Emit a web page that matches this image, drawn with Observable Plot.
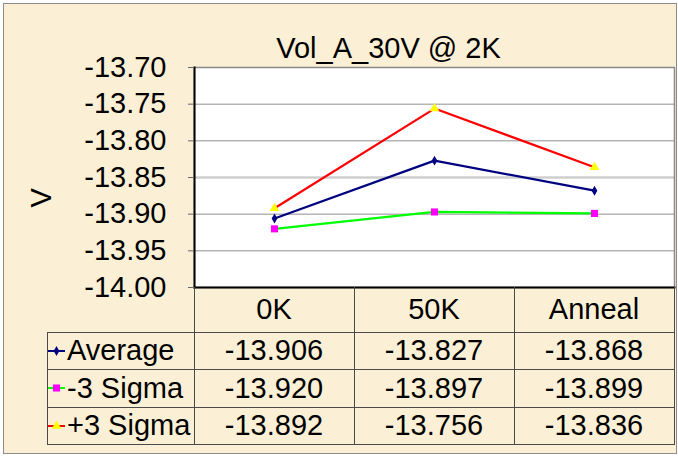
<!DOCTYPE html>
<html>
<head>
<meta charset="utf-8">
<script src="https://cdn.jsdelivr.net/npm/d3@7"></script>
<script src="https://cdn.jsdelivr.net/npm/@observablehq/plot@0.6"></script>
<style>
  html, body { margin: 0; padding: 0; background: #ffffff; }
  #stage { position: relative; width: 678px; height: 456px; overflow: hidden;
           font-family: "Liberation Sans", Arial, sans-serif; color: #000; }
  #bg { position: absolute; left: 3px; top: 3px; width: 672px; height: 449px;
        border: 1px solid #8c8c8c; background: #fbf0d6; }
  #stage svg { position: absolute; left: 0; top: 0; }
  .cell { position: absolute; display: flex; align-items: center; justify-content: center;
          font-size: 29px; white-space: nowrap; line-height: 1; }
  .lcell { justify-content: flex-start; }
  .hline, .vline { position: absolute; background: #4a4a4a; }
</style>
</head>
<body>
<div id="stage"><div id="bg"></div></div>
<script>
const title = "Vol_A_30V @ 2K";
const yLabel = "V";
const categories = ["0K", "50K", "Anneal"];
const seriesNames = ["Average", "-3 Sigma", "+3 Sigma"];
const average = [-13.906, -13.827, -13.868];
const minus3Sigma = [-13.920, -13.897, -13.899];
const plus3Sigma = [-13.892, -13.756, -13.836];
const tableText = [
  ["-13.906", "-13.827", "-13.868"],
  ["-13.920", "-13.897", "-13.899"],
  ["-13.892", "-13.756", "-13.836"]
];
const yTicks = [-13.70, -13.75, -13.80, -13.85, -13.90, -13.95, -14.00];
const gridTicks = [-13.75, -13.80, -13.90, -13.95];
const midGrid = [-13.85];

const seriesValues = [average, minus3Sigma, plus3Sigma];
const lineColors = ["#000080", "#00ff00", "#ff0000"];
const markFill = ["#000080", "#ff00ff", "#ffff00"];
const markSymbol = ["diamond", "square", "triangle"];
const markR = [3, 4, 3.6];

const rows = seriesNames.flatMap((s, i) =>
  categories.map((c, j) => ({series: s, cat: c, value: seriesValues[i][j]})));

const font = "Liberation Sans, Arial, sans-serif";

const lineMarks = seriesNames.map((s, i) =>
  Plot.line(rows.filter(d => d.series === s), {x: "cat", y: "value", stroke: lineColors[i], strokeWidth: 2.2}));
const dotMarks = seriesNames.map((s, i) =>
  Plot.dot(rows.filter(d => d.series === s), {x: "cat", y: "value", symbol: markSymbol[i], fill: markFill[i], stroke: "none", r: markR[i]}));

const plot = Plot.plot({
  width: 678,
  height: 456,
  marginLeft: 194,
  marginRight: 4,
  marginTop: 67,
  marginBottom: 169,
  style: {background: "transparent", fontFamily: font, fontSize: "29px", color: "#000", overflow: "visible"},
  x: {type: "band", domain: categories, padding: 0, axis: null},
  y: {domain: [-14.0, -13.70], axis: null},
  marks: [
    Plot.frame({fill: "#ffffff", stroke: "none"}),
    Plot.ruleY(gridTicks, {stroke: "#8f8f8f", strokeWidth: 1}),
    Plot.ruleY(midGrid, {stroke: "#cfcfcf", strokeWidth: 2.5}),
    Plot.frame({stroke: "#8a8a8a", strokeWidth: 1.5}),
    Plot.frame({anchor: "left", stroke: "#000", strokeWidth: 2}),
    Plot.frame({anchor: "bottom", stroke: "#000", strokeWidth: 2}),
    Plot.axisY({ticks: yTicks, tickFormat: d => d.toFixed(2), tickSize: 6, tickPadding: 22,
                fontSize: 29, label: null, stroke: "#666", fill: "#000"}),
    ...lineMarks,
    ...dotMarks,
    Plot.text([title], {frameAnchor: "top", dx: -46, dy: -30, fontSize: 29, fill: "#000"}),
    Plot.text([yLabel], {frameAnchor: "left", dx: -153, dy: 30, rotate: -90, fontSize: 29, fill: "#000"})
  ]
});

const stage = document.getElementById("stage");
stage.append(plot);

// ---- data table below the plot, aligned to the x band scale ----
const xs = plot.scale("x");
const bw = xs.bandwidth;
const colStart = categories.map(c => xs.apply(c));
const tableLeft = 47;
const frameBottom = 456 - 169;
const tableRight = colStart[colStart.length - 1] + bw;
const headerH = 45;
const rowH = [37, 38, 37];
const rowTops = [frameBottom + headerH];
rowH.forEach((h, i) => rowTops.push(rowTops[i] + h));

function el(cls, style, text) {
  const d = document.createElement("div");
  d.className = cls;
  Object.assign(d.style, style);
  if (text != null) d.textContent = text;
  stage.append(d);
  return d;
}

// header cells
categories.forEach((c, j) => {
  el("cell", {left: colStart[j] + "px", top: frameBottom + "px", width: bw + "px", height: headerH + "px"}, c);
});
// value rows
seriesNames.forEach((s, i) => {
  const top = rowTops[i], h = rowH[i];
  const lc = el("cell lcell", {left: (tableLeft + 1) + "px", top: top + "px", width: (colStart[0] - tableLeft - 1) + "px", height: h + "px"});
  const ns = "http://www.w3.org/2000/svg";
  const key = document.createElementNS(ns, "svg");
  key.setAttribute("width", 18); key.setAttribute("height", 12);
  key.style.position = "static"; key.style.marginRight = "1px"; key.style.flex = "none";
  const ln = document.createElementNS(ns, "line");
  ln.setAttribute("x1", 0); ln.setAttribute("x2", 17); ln.setAttribute("y1", 6); ln.setAttribute("y2", 6);
  ln.setAttribute("stroke", lineColors[i]); ln.setAttribute("stroke-width", 2);
  key.append(ln);
  const sym = {diamond: d3.symbolDiamond, square: d3.symbolSquare, triangle: d3.symbolTriangle}[markSymbol[i]];
  const p = document.createElementNS(ns, "path");
  p.setAttribute("d", d3.symbol(sym, Math.PI * markR[i] * markR[i])());
  p.setAttribute("transform", "translate(8.5,6)");
  p.setAttribute("fill", markFill[i]);
  key.append(p);
  lc.append(key);
  const sp = document.createElement("span"); sp.textContent = s; lc.append(sp);
  categories.forEach((c, j) => {
    el("cell", {left: colStart[j] + "px", top: top + "px", width: bw + "px", height: h + "px"}, tableText[i][j]);
  });
});
// grid lines of the table
rowTops.forEach(y => el("hline", {left: tableLeft + "px", top: y + "px", width: (tableRight - tableLeft) + "px", height: "1px"}));
el("vline", {left: tableLeft + "px", top: rowTops[0] + "px", width: "1px", height: (rowTops[rowTops.length - 1] - rowTops[0] + 1) + "px"});
[...colStart, tableRight].forEach(x => el("vline", {left: x + "px", top: frameBottom + "px", width: "1px", height: (rowTops[rowTops.length - 1] - frameBottom + 1) + "px"}));
</script>
</body>
</html>
